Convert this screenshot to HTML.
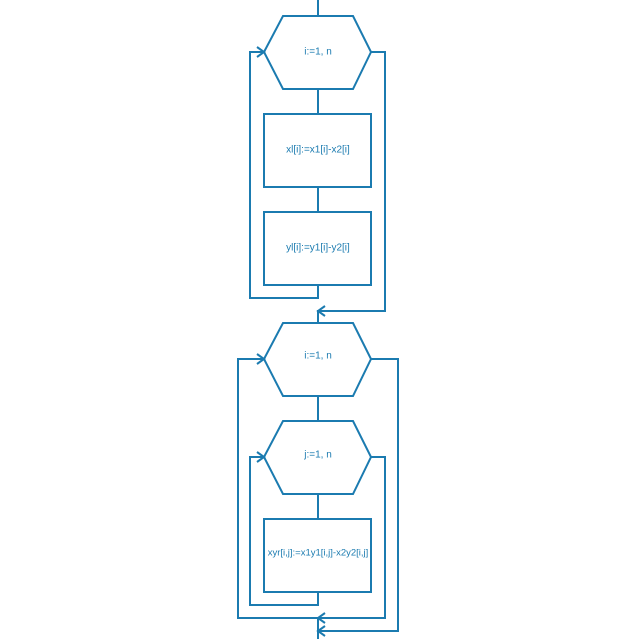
<!DOCTYPE html>
<html><head><style>body{margin:0;background:#fff}svg{display:block}</style></head><body>
<svg width="624" height="639" viewBox="0 0 624 639" xmlns="http://www.w3.org/2000/svg">
<g fill="none" stroke="#1b7bb0" stroke-width="2">
<line x1="318" y1="0" x2="318" y2="16"/>
<polygon points="283,16 353,16 371,52 353,89 283,89 264,52"/>
<line x1="318" y1="89" x2="318" y2="114"/>
<rect x="264" y="114" width="107" height="73"/>
<line x1="318" y1="187" x2="318" y2="212"/>
<rect x="264" y="212" width="107" height="73"/>
<polyline points="318,285 318,298 250,298 250,52 264,52"/>
<polyline points="257,47 264,52 257,57"/>
<polyline points="371,52 385,52 385,311 318,311 318,323"/>
<polyline points="325,306 318,311 325,316"/>
<polygon points="283,323 353,323 371,359 353,396 283,396 264,359"/>
<line x1="318" y1="396" x2="318" y2="421"/>
<polygon points="283,421 353,421 371,457 353,494 283,494 264,457"/>
<line x1="318" y1="494" x2="318" y2="519"/>
<rect x="264" y="519" width="107" height="73"/>
<polyline points="318,592 318,605 250,605 250,457 264,457"/>
<polyline points="257,452 264,457 257,462"/>
<polyline points="371,457 385,457 385,618 238,618 238,359 264,359"/>
<polyline points="257,354 264,359 257,364"/>
<polyline points="325,613 318,618 325,623"/>
<polyline points="371,359 398,359 398,631 318,631"/>
<line x1="318" y1="618" x2="318" y2="639"/>
<polyline points="325,626 318,631 325,636"/>
</g>
<g fill="#1b7bb0" font-family="Liberation Sans, sans-serif" font-size="10" text-anchor="middle">
<text x="318" y="52" dominant-baseline="middle">i:=1, n</text>
<text x="318" y="150" dominant-baseline="middle">xl[i]:=x1[i]-x2[i]</text>
<text x="318" y="248" dominant-baseline="middle">yl[i]:=y1[i]-y2[i]</text>
<text x="318" y="356" dominant-baseline="middle">i:=1, n</text>
<text x="318" y="455" dominant-baseline="middle">j:=1, n</text>
<text x="318" y="553" dominant-baseline="middle" font-size="9.5">xyr[i,j]:=x1y1[i,j]-x2y2[i,j]</text>
</g>
</svg>
</body></html>
